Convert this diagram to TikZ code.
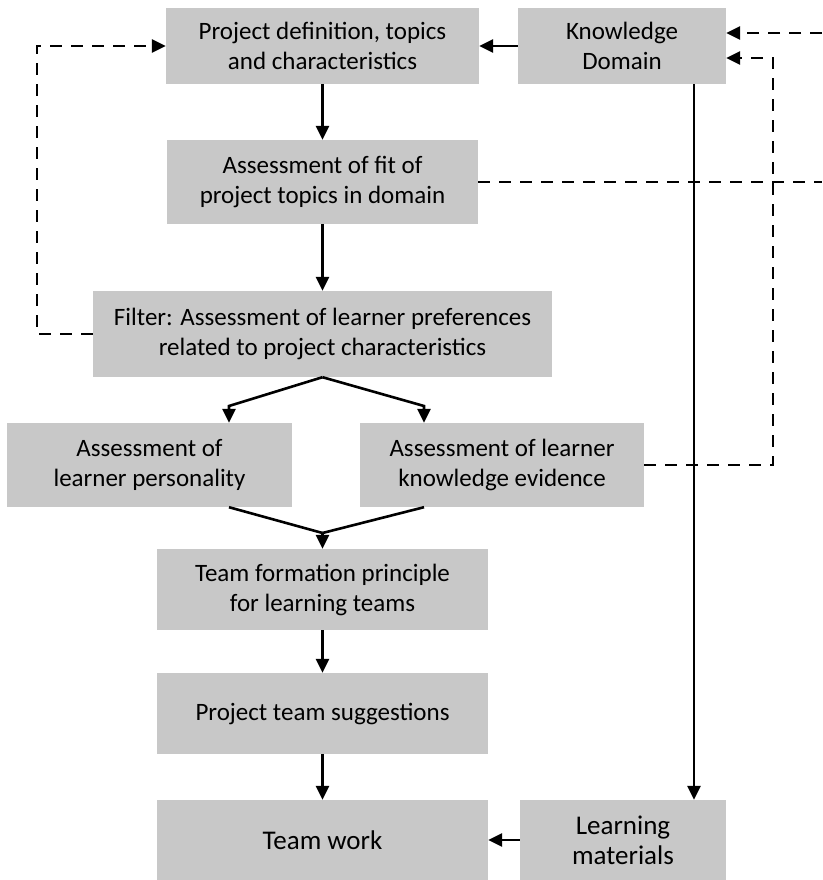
\documentclass[tikz,border=0pt]{standalone}
\usepackage{fontspec}
\setmainfont{Carlito}
\usetikzlibrary{arrows.meta}
\definecolor{boxgray}{RGB}{200,200,200}
\begin{document}
\begin{tikzpicture}[x=1pt,y=-1pt,
  box/.style={fill=boxgray,draw=none,inner sep=0pt,align=center,font=\fontsize{25}{30}\selectfont},
  bigbox/.style={box,font=\fontsize{27}{30}\selectfont},
  arr/.style={line width=2.6pt,-{Triangle[length=14pt,width=13pt]}},
  ln/.style={line width=2.6pt},
  darr/.style={line width=2.6pt,dash pattern=on 12pt off 9pt,-{Triangle[length=14pt,width=13pt]}},
  dln/.style={line width=2.6pt,dash pattern=on 12pt off 9pt}]
\useasboundingbox (0,0) rectangle (822,880);
\node[box,minimum width=313pt,minimum height=76pt] (pd) at (322.5,46) {Project definition, topics\\and characteristics};
\node[box,minimum width=208pt,minimum height=76pt] (kd) at (622,46) {Knowledge\\Domain};
\node[box,minimum width=311pt,minimum height=84pt] (af) at (322.5,182) {Assessment of fit of\\project topics in domain};
\node[box,minimum width=459pt,minimum height=86pt] (fl) at (322.5,334) {Filter: Assessment of learner preferences\\related to project characteristics};
\node[box,minimum width=285pt,minimum height=84pt] (lp) at (149.5,465) {Assessment of\\learner personality};
\node[box,minimum width=284pt,minimum height=84pt] (ke) at (502,465) {Assessment of learner\\knowledge evidence};
\node[box,minimum width=331pt,minimum height=81pt] (tf) at (322.5,589.5) {Team formation principle\\for learning teams};
\node[box,minimum width=331pt,minimum height=81pt] (ps) at (322.5,713.5) {Project team suggestions};
\node[bigbox,minimum width=331pt,minimum height=80pt] (tw) at (322.5,840) {Team work};
\node[bigbox,minimum width=206pt,minimum height=80pt] (lm) at (623,840) {Learning\\materials};
% coordinates
\coordinate (b1) at (229,406);
\coordinate (b2) at (424,406);
\coordinate (m1) at (322.5,533);
\coordinate (k1) at (694,0);
\coordinate (d1) at (37,0);
\coordinate (e1) at (822,0);
\coordinate (r1) at (822,33);
\coordinate (d2) at (773,58);
% solid connectors
\draw[arr] (kd.west) -- (pd.east);
\draw[arr] (pd.south) -- (af.north);
\draw[arr] (af.south) -- (fl.north);
\draw[arr] (fl.south) -- (b1) -- (b1 |- lp.north);
\draw[arr] (fl.south) -- (b2) -- (b2 |- ke.north);
\draw[ln] (b1 |- lp.south) -- (m1);
\draw[ln] (b2 |- ke.south) -- (m1);
\draw[arr] (m1) -- (tf.north);
\draw[arr] (tf.south) -- (ps.north);
\draw[arr] (ps.south) -- (tw.north);
\draw[arr] (lm.west) -- (tw.east);
\draw[arr] (k1 |- kd.south) -- (k1 |- lm.north);
% dashed connectors
\draw[darr] (fl.west) -- (fl.west -| d1) -- (d1 |- pd.west) -- (pd.west);
\draw[dln] (af.east) -- (af.east -| e1);
\draw[darr] (r1) -- (r1 -| kd.east);
\draw[darr] (ke.east) -- (ke.east -| d2) -- (d2) -- (d2 -| kd.east);
\end{tikzpicture}
\end{document}
